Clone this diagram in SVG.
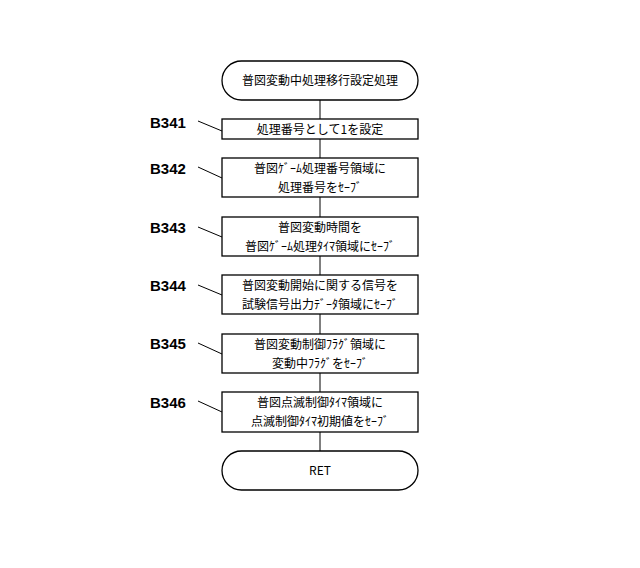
<svg xmlns="http://www.w3.org/2000/svg" width="640" height="568" viewBox="0 0 640 568">
<style>
.b{fill:#fff;stroke:#000;stroke-width:1.3}
.t{font-family:"Noto Sans CJK JP","Liberation Sans",sans-serif;font-size:12px;text-anchor:middle}
.l{font-family:"Liberation Sans",sans-serif;font-size:15px;font-weight:bold}
.c{stroke:#000;stroke-width:1;fill:none}
</style>
<rect width="640" height="568" fill="#fff"/>
<g id="connectors">
<line class="c" x1="320" y1="100" x2="320" y2="451"/>
<path class="c" d="M198 121L222 131M198 167L222 178M198 227L222 237M198 285L222 295M198 343L222 354M198 401L222 412"/>
</g>
<g id="start"><rect class="b" x="222" y="61" width="196" height="39" rx="19.5"/><text class="t" x="320" y="85" font-size="13.5">普図変動中処理移行設定処理</text></g>
<g id="B341"><rect class="b" x="222" y="119" width="196" height="20"/><text class="t" x="320" y="134">処理番号として1を設定</text><text class="l" x="150" y="128">B341</text></g>
<g id="B342"><rect class="b" x="222" y="158" width="196" height="39"/><text class="t" x="320" y="173">普図ｹﾞｰﾑ処理番号領域に</text><text class="t" x="320" y="192">処理番号をｾｰﾌﾞ</text><text class="l" x="150" y="174">B342</text></g>
<g id="B343"><rect class="b" x="222" y="217" width="196" height="39"/><text class="t" x="320" y="232">普図変動時間を</text><text class="t" x="320" y="251">普図ｹﾞｰﾑ処理ﾀｲﾏ領域にｾｰﾌﾞ</text><text class="l" x="150" y="233">B343</text></g>
<g id="B344"><rect class="b" x="222" y="275" width="196" height="39"/><text class="t" x="320" y="290">普図変動開始に関する信号を</text><text class="t" x="320" y="309">試験信号出力ﾃﾞｰﾀ領域にｾｰﾌﾞ</text><text class="l" x="150" y="291">B344</text></g>
<g id="B345"><rect class="b" x="222" y="334" width="196" height="39"/><text class="t" x="320" y="349">普図変動制御ﾌﾗｸﾞ領域に</text><text class="t" x="320" y="368">変動中ﾌﾗｸﾞをｾｰﾌﾞ</text><text class="l" x="150" y="349">B345</text></g>
<g id="B346"><rect class="b" x="222" y="392" width="196" height="40"/><text class="t" x="320" y="407">普図点滅制御ﾀｲﾏ領域に</text><text class="t" x="320" y="426">点滅制御ﾀｲﾏ初期値をｾｰﾌﾞ</text><text class="l" x="150" y="408">B346</text></g>
<g id="end"><rect class="b" x="222" y="451" width="196" height="39" rx="19.5"/><text class="t" x="320" y="475" font-family="Liberation Sans,sans-serif">RET</text></g>
</svg>
